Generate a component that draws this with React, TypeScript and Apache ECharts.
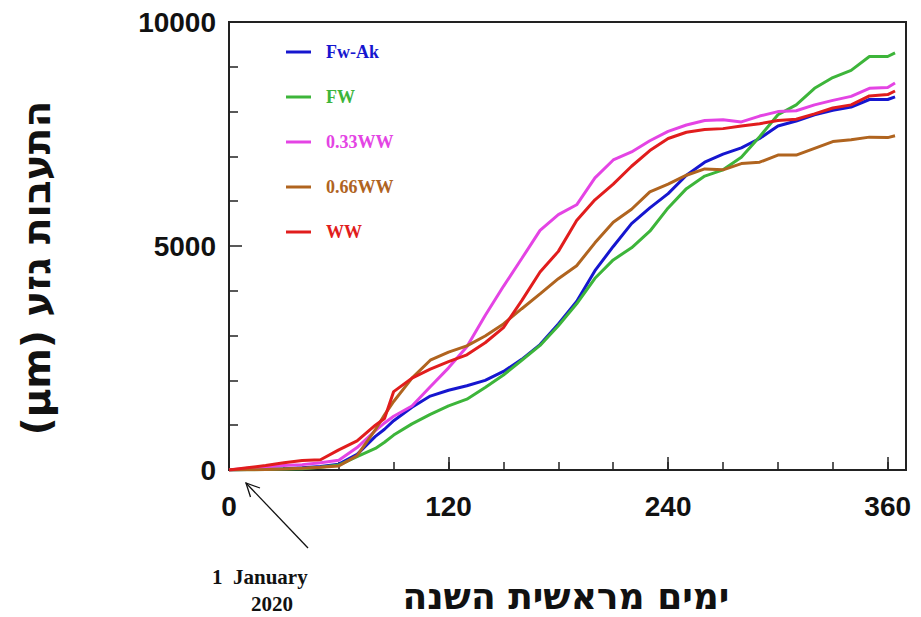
import React, { useEffect, useRef } from "react";
import * as echarts from "echarts";

// Days since 1 January 2020 at which the stem readings are plotted
const days = [
  0, 10, 20, 30, 40, 50, 60, 70, 80, 85, 90, 100, 110, 120, 130, 140, 150, 160, 170, 180,
  190, 200, 210, 220, 230, 240, 250, 260, 270, 280, 290, 300, 310, 320, 330, 340, 350, 360, 364,
];

// Cumulative stem growth (µm) per treatment
const fwAk = [
  0, 10, 20, 30, 50, 80, 130, 350, 750, 910, 1100, 1400, 1650, 1780, 1880, 2000, 2200, 2470, 2800, 3260,
  3760, 4450, 4990, 5500, 5850, 6170, 6580, 6870, 7050, 7190, 7400, 7680, 7790, 7930, 8030, 8100, 8270, 8270, 8330,
];
const fw = [
  0, 5, 10, 20, 30, 60, 110, 300, 480, 620, 780, 1030, 1240, 1430, 1580, 1840, 2120, 2450, 2780, 3220,
  3710, 4280, 4690, 4960, 5330, 5850, 6280, 6560, 6700, 6980, 7440, 7930, 8150, 8520, 8760, 8920, 9230, 9230, 9310,
];
const ww033 = [
  0, 40, 70, 100, 120, 160, 220, 500, 880, 1050, 1200, 1430, 1860, 2280, 2750, 3450, 4100, 4720, 5350, 5700,
  5920, 6520, 6920, 7100, 7350, 7560, 7700, 7800, 7820, 7770, 7900, 8000, 8020, 8150, 8250, 8340, 8520, 8540, 8640,
];
const ww066 = [
  0, 5, 10, 20, 40, 60, 90, 320, 900, 1230, 1530, 2050, 2450, 2630, 2770, 2990, 3260, 3600, 3930, 4270,
  4560, 5070, 5530, 5820, 6210, 6380, 6580, 6720, 6700, 6840, 6870, 7030, 7030, 7180, 7330, 7370, 7430, 7420, 7460,
];
const ww = [
  0, 50, 100, 160, 210, 230, 450, 650, 1000, 1150, 1750, 2050, 2250, 2420, 2570, 2840, 3180, 3780, 4420, 4880,
  5570, 6030, 6380, 6780, 7130, 7400, 7540, 7600, 7620, 7680, 7730, 7800, 7830, 7950, 8080, 8150, 8350, 8380, 8460,
];

const seriesNames = ["Fw-Ak", "FW", "0.33WW", "0.66WW", "WW"];
const seriesValues = [fwAk, fw, ww033, ww066, ww];
const seriesColors = ["#1616cf", "#3db53a", "#e444e4", "#b0641f", "#e11d1d"];

const yTickLabels = ["0", "5000", "10000"];
const xTickLabels = ["0", "120", "240", "360"];

const AXIS_COLOR = "#222";
const NUM_FONT = "'Liberation Sans', Arial, sans-serif";
const SERIF_FONT = "'Liberation Serif', 'DejaVu Serif', serif";
const HEBREW_FONT = "'DejaVu Sans', sans-serif";

export default function App() {
  const ref = useRef<HTMLDivElement>(null);

  useEffect(() => {
    document.body.style.margin = "0";
    if (!ref.current) return;
    const chart = echarts.init(ref.current, undefined, { renderer: "svg" });

    const series = seriesNames.map((name, i) => ({
      name,
      type: "line" as const,
      xAxisIndex: 0,
      data: days.map((d, j) => [d, seriesValues[i][j]]),
      symbol: "none",
      lineStyle: { color: seriesColors[i], width: 3 },
      itemStyle: { color: seriesColors[i] },
      z: 3 + i,
    }));

    // arrow pointing at the start of the year
    const tip = [246, 483];
    const tail = [308, 548];

    chart.setOption({
      animation: false,
      backgroundColor: "#fff",
      grid: {
        left: 229,
        right: 15,
        top: 22,
        bottom: 147,
        show: true,
        borderColor: AXIS_COLOR,
        borderWidth: 2,
      },
      legend: {
        orient: "vertical",
        left: 286,
        top: 43,
        padding: 0,
        itemWidth: 25,
        itemHeight: 3,
        itemGap: 27,
        icon: "rect",
        selectedMode: false,
        textStyle: {
          fontFamily: SERIF_FONT,
          fontWeight: "bold",
          fontSize: 18,
          lineHeight: 18,
          padding: [0, 0, 0, 10],
        },
        data: seriesNames.map((name, i) => ({
          name,
          textStyle: { color: seriesColors[i] },
        })),
      },
      xAxis: [
        {
          type: "value",
          min: 0,
          max: 370,
          interval: 30,
          axisLine: { show: true, lineStyle: { color: AXIS_COLOR, width: 2 } },
          axisTick: { show: true, inside: true, length: 8, lineStyle: { color: AXIS_COLOR, width: 1.5 } },
          axisLabel: { show: false },
          splitLine: { show: false },
        },
        {
          type: "value",
          position: "bottom",
          min: 0,
          max: 370,
          interval: 120,
          axisLine: { show: false },
          axisTick: { show: true, inside: true, length: 13, lineStyle: { color: AXIS_COLOR, width: 1.5 } },
          axisLabel: {
            show: true,
            margin: 22,
            showMaxLabel: false,
            color: "#111",
            fontFamily: NUM_FONT,
            fontWeight: "bold",
            fontSize: 28,
            formatter: (v: number) => (xTickLabels.includes(String(v)) ? String(v) : ""),
          },
          splitLine: { show: false },
        },
      ],
      yAxis: {
        type: "value",
        min: 0,
        max: 10000,
        interval: 5000,
        axisLine: { show: true, lineStyle: { color: AXIS_COLOR, width: 2 } },
        axisTick: { show: true, inside: true, length: 13, lineStyle: { color: AXIS_COLOR, width: 1.5 } },
        minorTick: { show: true, splitNumber: 5, length: 9, lineStyle: { color: AXIS_COLOR, width: 1.5 } },
        axisLabel: {
          margin: 13,
          color: "#111",
          fontFamily: NUM_FONT,
          fontWeight: "bold",
          fontSize: 28,
          formatter: (v: number) => (yTickLabels.includes(String(v)) ? String(v) : ""),
        },
        splitLine: { show: false },
      },
      series,
      graphic: [
        {
          type: "text",
          x: 36,
          y: 268,
          rotation: Math.PI / 2,
          style: {
            text: "(µm) התעבות גזע",
            fontFamily: HEBREW_FONT,
            fontWeight: "bold",
            fontSize: 39,
            fill: "#111",
            align: "center",
            verticalAlign: "middle",
          },
        },
        {
          type: "text",
          x: 566,
          y: 596,
          style: {
            text: "ימים מראשית השנה",
            fontFamily: HEBREW_FONT,
            fontWeight: "bold",
            fontSize: 36,
            fill: "#111",
            align: "center",
            verticalAlign: "middle",
          },
        },
        {
          type: "text",
          x: 212,
          y: 577,
          style: {
            text: "1  January",
            fontFamily: SERIF_FONT,
            fontWeight: "bold",
            fontSize: 21,
            fill: "#111",
            align: "left",
            verticalAlign: "middle",
          },
        },
        {
          type: "text",
          x: 272,
          y: 604,
          style: {
            text: "2020",
            fontFamily: SERIF_FONT,
            fontWeight: "bold",
            fontSize: 21,
            fill: "#111",
            align: "center",
            verticalAlign: "middle",
          },
        },
        {
          type: "line",
          shape: { x1: tail[0], y1: tail[1], x2: tip[0], y2: tip[1] },
          style: { stroke: "#111", lineWidth: 1.3 },
        },
        {
          type: "polyline",
          shape: { points: [[250.5, 497], tip, [260, 488]] },
          style: { stroke: "#111", lineWidth: 1.3, fill: null },
        },
      ],
    });

    return () => chart.dispose();
  }, []);

  return <div ref={ref} style={{ width: 921, height: 617 }} />;
}
